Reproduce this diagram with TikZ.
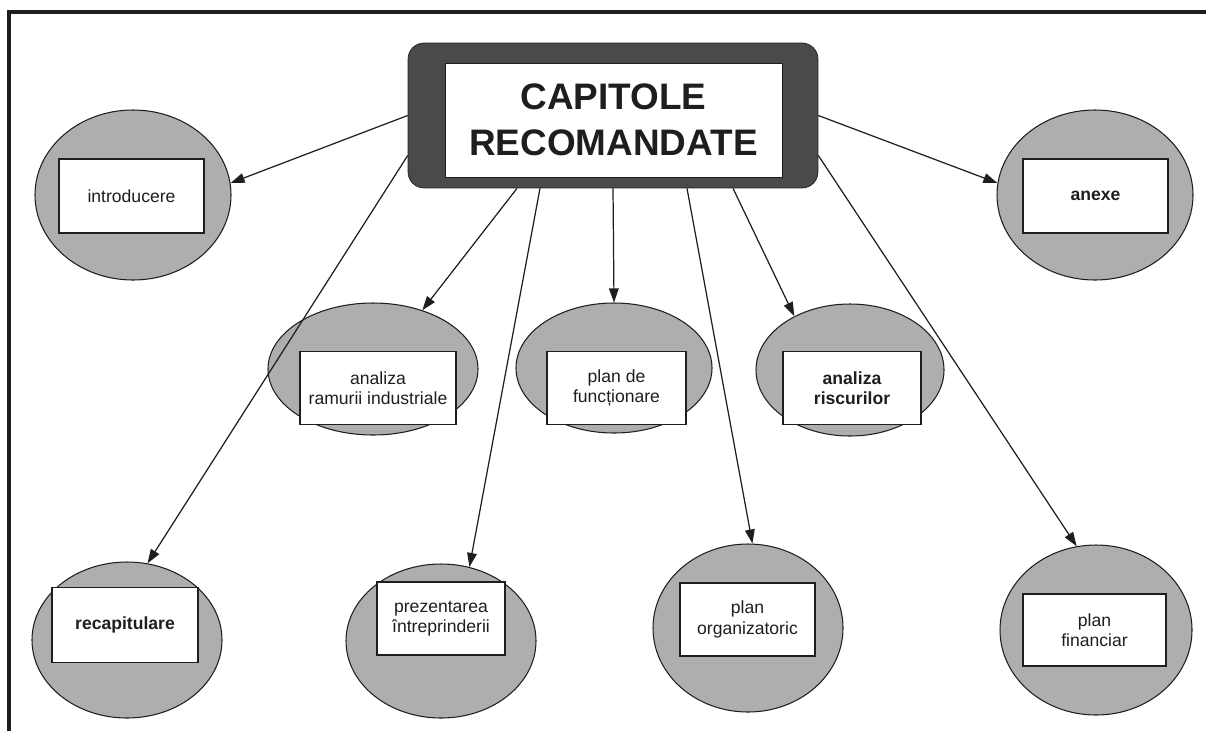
\documentclass[tikz,border=0pt]{standalone}
\usepackage{fontspec}
\setmainfont{Liberation Sans}
\usepackage{xcolor}
\usepackage{tikz}
\usetikzlibrary{arrows.meta,calc,shapes.geometric}
\definecolor{bubble}{HTML}{AEAEB1}
\definecolor{frame}{HTML}{4A4A4A}
\definecolor{ink}{HTML}{1E1E1E}

\begin{document}
\begin{tikzpicture}[x=0.02cm,y=-0.02cm,every node/.style={font=\fontsize{10}{11.5}\selectfont,align=center,text=ink},bubble/.style 2 args={ellipse,draw=ink,line width=0.6pt,fill=bubble,minimum width=#1*0.02cm,minimum height=#2*0.02cm,inner sep=0pt},tag/.style 2 args={rectangle,draw=ink,line width=0.9pt,fill=white,minimum width=#1*0.02cm,minimum height=#2*0.02cm,inner sep=0pt},arr/.style={-{Triangle[length=8pt,width=5.5pt]},line width=0.7pt,ink}]
\useasboundingbox (0,0) rectangle (1206,731);
\draw[line width=1.8pt,ink] (1206,12) -- (9,12) -- (9,731);
% central title
\node[draw=ink,fill=frame,rounded corners=0.32cm,minimum width=8.2cm,minimum height=2.9cm] (cap) at (613,115.5) {};
\node[tag={337}{114},line width=0.5pt,font=\fontsize{21}{26.5}\selectfont\bfseries] (title) at (613.5,120) {CAPITOLE\\RECOMANDATE};
% chapters
\node[bubble={196}{170}] (intro) at (133,195) {};
\node[tag={145}{74}] (intro-t) at (131.5,196) {introducere};
\node[bubble={196}{170}] (anexe) at (1095,195) {};
\node[tag={145}{74},font=\fontsize{10}{11.5}\selectfont\bfseries] (anexe-t) at (1095.5,196) {anexe};
\node[bubble={210}{132}] (ramurii) at (373,369) {};
\node[tag={156}{73}] (ramurii-t) at (378,388) {analiza\\ramurii industriale};
\node[bubble={196}{130}] (func) at (614,368) {};
\node[tag={139}{73}] (func-t) at (616.5,388) {plan de\\funcționare};
\node[bubble={188}{132}] (risc) at (850,370) {};
\node[tag={138}{73},font=\fontsize{10}{11.5}\selectfont\bfseries] (risc-t) at (852,388) {analiza\\riscurilor};
\node[bubble={190}{156}] (recap) at (127,640) {};
\node[tag={146}{75},font=\fontsize{10}{11.5}\selectfont\bfseries] (recap-t) at (125,625) {recapitulare};
\node[bubble={190}{154}] (pre) at (441,641) {};
\node[tag={128}{73}] (pre-t) at (441,618.5) {prezentarea\\întreprinderii};
\node[bubble={190}{168}] (org) at (748,628) {};
\node[tag={135}{73}] (org-t) at (747.5,619.5) {plan\\organizatoric};
\node[bubble={192}{170}] (fin) at (1096,630) {};
\node[tag={143}{72}] (fin-t) at (1094.5,630) {plan\\financiar};
% arrows
\draw[arr] (cap.west) -- (intro.7);
\draw[arr] ($(cap.west)+(0,40)$) -- (recap.75);
\draw[arr] ($(cap.south)+(-96,0)$) -- (ramurii.50);
\draw[arr] ($(cap.south)+(-73,0)$) -- (pre.69);
\draw[arr] (cap.south) -- (func.north);
\draw[arr] ($(cap.south)+(74,0)$) -- (org.87);
\draw[arr] ($(cap.south)+(120,0)$) -- (risc.136);
\draw[arr] ($(cap.east)+(0,40)$) -- (fin.103);
\draw[arr] (cap.east) -- (anexe.173);
\end{tikzpicture}
\end{document}
